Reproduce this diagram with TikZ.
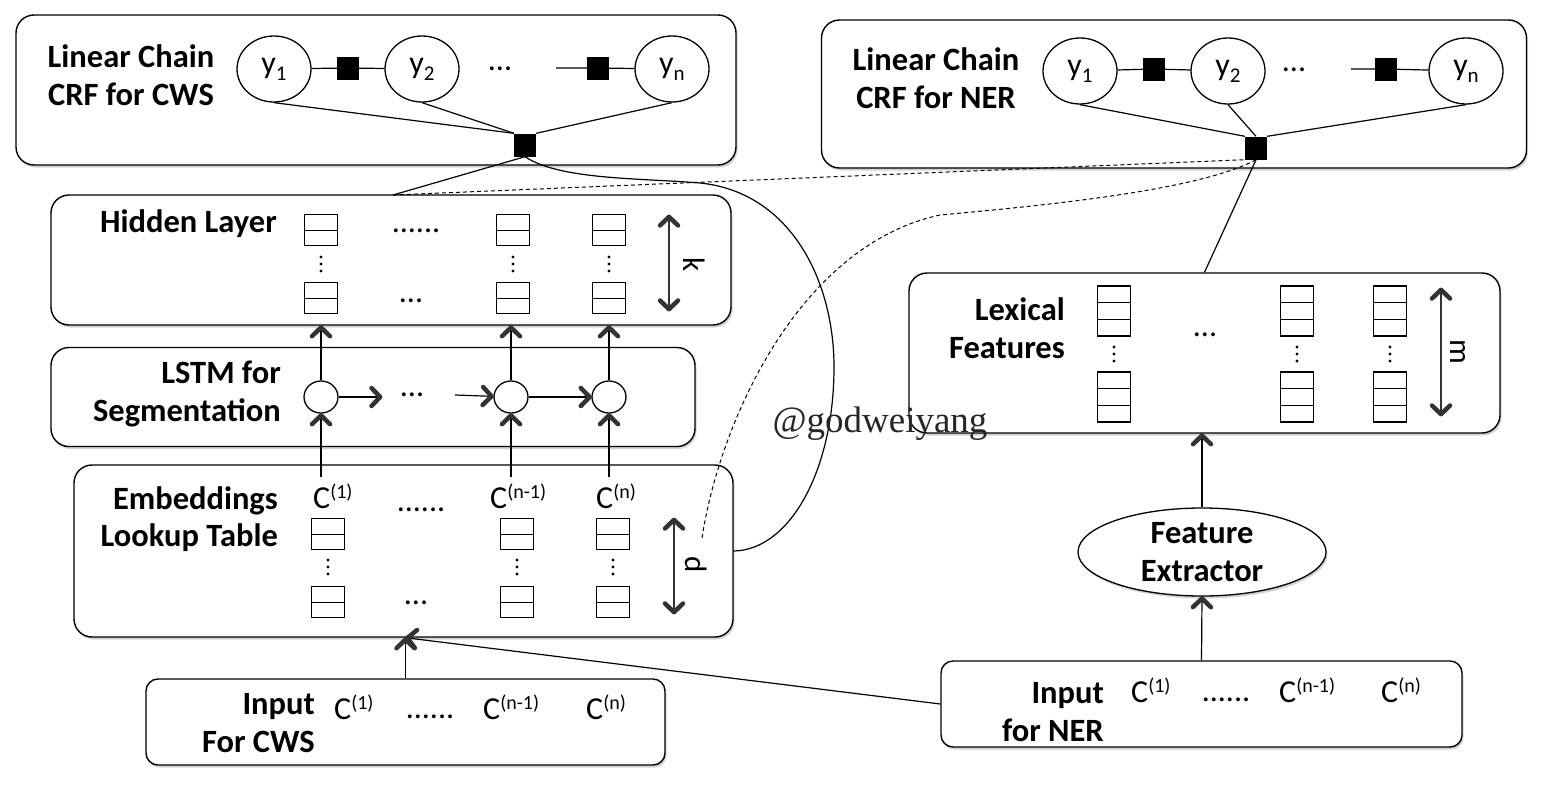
\documentclass[tikz,border=0pt]{standalone}
\usepackage{fontspec}
\setmainfont{Carlito}
\newfontfamily\wmfont{Liberation Serif}
\usetikzlibrary{arrows.meta,shapes.geometric,shadows,decorations.markings}
\newcommand{\myC}[1]{C\raisebox{10pt}{\fontsize{20}{20}\selectfont(#1)}}
\newcommand{\myY}[1]{y\raisebox{-7pt}{\fontsize{21}{21}\selectfont #1}}
\begin{document}
\begin{tikzpicture}[x=1pt,y=-1pt,
  box/.style={draw, line width=1.4pt, rounded corners=18pt, fill=white,
    drop shadow={shadow xshift=1.5pt,shadow yshift=-2.5pt,opacity=0.35,fill=black!50}},
  sbox/.style={box, rounded corners=12pt},
  lbl/.style={font=\fontsize{32.5}{37.5}\selectfont\bfseries, align=right, inner sep=0pt},
  txt/.style={font=\fontsize{32}{36}\selectfont, inner sep=0pt},
  var/.style={ellipse, draw, line width=1.3pt, minimum width=74pt, minimum height=66pt, fill=white, inner sep=0pt, font=\fontsize{32}{36}\selectfont},
  lstm/.style={ellipse, draw, line width=1.3pt, minimum width=34pt, minimum height=32pt, fill=white, inner sep=0pt},
  fac/.style={fill=black, minimum width=22pt, minimum height=23pt, inner sep=0pt},
  cellb/.style={draw, line width=1.2pt, minimum width=33pt, minimum height=31pt, inner sep=0pt, fill=white,
    path picture={\draw[line width=0.8pt] (path picture bounding box.west) -- (path picture bounding box.east);}},
  cellc/.style={draw, line width=1.2pt, minimum width=33pt, minimum height=50pt, inner sep=0pt, fill=white,
    path picture={\draw[line width=0.8pt] ([yshift=8.3pt]path picture bounding box.west) -- ([yshift=8.3pt]path picture bounding box.east);
                  \draw[line width=0.8pt] ([yshift=-8.3pt]path picture bounding box.west) -- ([yshift=-8.3pt]path picture bounding box.east);}},
  vd/.pic={\fill (0,-7) circle (1.7pt); \fill (0,0) circle (1.7pt); \fill (0,7) circle (1.7pt);},
  ln/.style={line width=1.2pt},
  chevd/.style={line width=4.5pt, line cap=round, line join=round, draw=black!80, solid},
  arr/.style={line width=1.2pt, postaction={decorate, decoration={markings,
      mark=at position 1 with {\draw[chevd] (-10.5pt,9pt) -- (-1.8pt,0pt) -- (-10.5pt,-9pt);}}}},
  dar/.style={line width=1.8pt, draw=black!80, postaction={decorate, decoration={markings,
      mark=at position 0 with {\draw[chevd] (10.5pt,9pt) -- (1.8pt,0pt) -- (10.5pt,-9pt);},
      mark=at position 1 with {\draw[chevd] (-10.5pt,9pt) -- (-1.8pt,0pt) -- (-10.5pt,-9pt);}}}},
  dsh/.style={line width=1pt, dash pattern=on 4pt off 3pt},
  rot/.style={font=\fontsize{31}{36}\selectfont, rotate=-90, inner sep=0pt}
]
\fill[white] (0,0) rectangle (1542,790);
\useasboundingbox (0,0) rectangle (1542,790);

% ---------- boxes ----------
\node[box, minimum width=720pt, minimum height=150pt] (crfA) at (376,90) {};
\node[box, minimum width=705pt, minimum height=148pt] (crfB) at (1174,94) {};
\node[box, minimum width=680pt, minimum height=130pt] (hid) at (391,260) {};
\node[box, minimum width=644pt, minimum height=99pt] (lstmb) at (373,397) {};
\node[box, minimum width=659pt, minimum height=172pt] (emb) at (403.5,551) {};
\node[sbox, minimum width=519pt, minimum height=86pt] (inA) at (405.5,722) {};
\node[box, minimum width=591pt, minimum height=160pt] (lex) at (1204.5,353) {};
\node[sbox, minimum width=521pt, minimum height=86pt] (inB) at (1201.5,704) {};
\node[ellipse, draw, line width=1.3pt, fill=white, minimum width=248pt, minimum height=88pt, inner sep=0pt,
      font=\fontsize{32.5}{37.5}\selectfont\bfseries, align=center,
      drop shadow={shadow xshift=1.5pt,shadow yshift=-2.5pt,opacity=0.35,fill=black!50}] (fe) at (1202,552) {Feature\\Extractor};

% ---------- CRF for CWS ----------
\node[lbl, align=center] (crfAl) at (131,75) {Linear Chain\\CRF for CWS};
\node[var] (yA1) at (274,69) {\myY{1}};
\node[var] (yA2) at (422,69) {\myY{2}};
\node[var] (yAn) at (672,69) {\myY{n}};
\node[fac] (fA1) at (348,68) {};
\node[fac] (fA2) at (598,68) {};
\node[txt] (dA) at (500,69) {...};
\coordinate (cA) at (556,68);
\node[fac] (sqA) at (525,145) {};
\draw[ln] (yA1) -- (fA1) -- (yA2);
\draw[ln] (cA) -- (fA2) -- (yAn);
\draw[ln] (yA1.south) -- (sqA.north west);
\draw[ln] (yA2.south) -- (sqA.north west);
\draw[ln] (yAn.south) -- (sqA.north east);

% ---------- CRF for NER ----------
\node[lbl, align=center] (crfBl) at (936,78) {Linear Chain\\CRF for NER};
\node[var] (yB1) at (1080,71) {\myY{1}};
\node[var] (yB2) at (1228,71) {\myY{2}};
\node[var] (yBn) at (1466,71) {\myY{n}};
\node[fac] (fB1) at (1154,69) {};
\node[fac] (fB2) at (1386,69) {};
\node[txt] (dB) at (1294,70) {...};
\coordinate (cB) at (1351,69);
\node[fac] (sqB) at (1256,148) {};
\draw[ln] (yB1) -- (fB1) -- (yB2);
\draw[ln] (cB) -- (fB2) -- (yBn);
\draw[ln] (yB1.south) -- (sqB.north west);
\draw[ln] (yB2.south) -- (sqB.north);
\draw[ln] (yBn.south) -- (sqB.north east);

% ---------- Hidden layer ----------
\node[lbl, anchor=east] (hidl) at (277,224) {Hidden Layer};
\node[cellb] (h1) at (321,230) {};
\node[cellb] (h2) at (513,230) {};
\node[cellb] (h3) at (609,230) {};
\node[cellb] (h1b) at (321,298) {};
\node[cellb] (h2b) at (513,298) {};
\node[cellb] (h3b) at (609,298) {};
\pic at (321,264) {vd};
\pic at (513,264) {vd};
\pic at (609,264) {vd};
\node[txt] (hd1) at (416,231) {......};
\node[txt] (hd2) at (411,301) {...};
\coordinate (kT) at (669,215);
\coordinate (kB) at (669,311);
\draw[dar] (kT) -- (kB);
\node[rot] (kl) at (694,265) {k};

% ---------- LSTM ----------
\node[lbl, anchor=east] (lstml) at (281,394) {LSTM for\\Segmentation};
\node[lstm] (L1) at (321,397) {};
\node[lstm] (L2) at (511,397) {};
\node[lstm] (L3) at (609,397) {};
\coordinate (a1) at (382,397);
\coordinate (a2) at (455,395);
\node[txt] (ld) at (412,395) {...};
\draw[arr] (L1) -- (a1);
\draw[arr] (a2) -- (L2);
\draw[arr] (L2) -- (L3);
\draw[arr] (L1.north) -- (L1.north |- hid.south);
\draw[arr] (L2.north) -- (L2.north |- hid.south);
\draw[arr] (L3.north) -- (L3.north |- hid.south);

% ---------- Embeddings ----------
\node[lbl, anchor=east] (embl) at (278,519) {Embeddings\\Lookup Table};
\node[txt, anchor=base west] (e1) at (313,508) {\myC{1}};
\node[txt, anchor=base west] (e2) at (490,508) {\myC{n-1}};
\node[txt, anchor=base west] (e3) at (596,508) {\myC{n}};
\coordinate (c1) at (321,477);
\coordinate (c2) at (511,477);
\coordinate (c3) at (609,477);
\draw[arr] (c1) -- (L1.south);
\draw[arr] (c2) -- (L2.south);
\draw[arr] (c3) -- (L3.south);
\node[txt] (ed1) at (421,510) {......};
\node[cellb] (m1) at (328,534) {};
\node[cellb] (m2) at (517,534) {};
\node[cellb] (m3) at (613,534) {};
\node[cellb] (m1b) at (328,602) {};
\node[cellb] (m2b) at (517,602) {};
\node[cellb] (m3b) at (613,602) {};
\pic at (328,567) {vd};
\pic at (517,567) {vd};
\pic at (613,567) {vd};
\node[txt] (ed2) at (416,603) {...};
\coordinate (dT) at (674,518);
\coordinate (dB) at (674,614);
\draw[dar] (dT) -- (dB);
\node[rot] (dl) at (696,565) {d};

% ---------- Input for CWS ----------
\node[lbl, anchor=east] (inAl) at (315,723) {Input\\For CWS};
\node[txt, anchor=base west] (i1) at (334,719) {\myC{1}};
\node[txt] (id1) at (430,717) {......};
\node[txt, anchor=base west] (i2) at (483,719) {\myC{n-1}};
\node[txt, anchor=base west] (i3) at (586,719) {\myC{n}};
\coordinate (embIn) at (inA.north |- emb.south);
\draw[arr] (inA.north) -- (embIn);

% ---------- Lexical features ----------
\node[lbl, anchor=east] (lexl) at (1065,328) {Lexical\\Features};
\node[cellc] (x1) at (1114,311) {};
\node[cellc] (x2) at (1297,311) {};
\node[cellc] (x3) at (1390,311) {};
\node[cellc] (x1b) at (1114,397) {};
\node[cellc] (x2b) at (1297,397) {};
\node[cellc] (x3b) at (1390,397) {};
\pic at (1114,354) {vd};
\pic at (1297,354) {vd};
\pic at (1390,354) {vd};
\node[txt] (xd) at (1205,335) {...};
\coordinate (mT) at (1441,288);
\coordinate (mB) at (1441,416);
\draw[dar] (mT) -- (mB);
\node[rot] (ml) at (1458,352) {m};

% ---------- Input for NER ----------
\node[lbl, anchor=east] (inBl) at (1104,712) {Input\\for NER};
\node[txt, anchor=base west] (n1) at (1131,702) {\myC{1}};
\node[txt] (nd1) at (1226,700) {......};
\node[txt, anchor=base west] (n2) at (1279,702) {\myC{n-1}};
\node[txt, anchor=base west] (n3) at (1381,702) {\myC{n}};
\draw[arr] (inB.north) -- (fe.south);
\draw[arr] (fe.north) -- (fe.north |- lex.south);
\draw[arr] (inB.west) -- (embIn);

% ---------- cross connections ----------
\coordinate (P) at (393,195);
\coordinate (dEnd) at (702,538);
\draw[ln] (sqA.south) -- (P);
\draw[ln] (sqA.south) .. controls (560,180) and (640,178) .. (700,183)
   .. controls (790,192) and (834,280) .. (834,367)
   .. controls (834,470) and (790,550) .. (emb.east);
\draw[dsh] (P) -- (sqB.south west);
\draw[dsh] (sqB.south) .. controls (1200,190) and (1050,205) .. (940,215)
   .. controls (800,245) and (720,420) .. (dEnd);
\draw[ln] (sqB.south) -- (lex.north);

% ---------- watermark ----------
\node[font=\wmfont\fontsize{37}{37}\selectfont, text=black!85, inner sep=0pt] (wm) at (880,424) {@godweiyang};
\end{tikzpicture}
\end{document}
